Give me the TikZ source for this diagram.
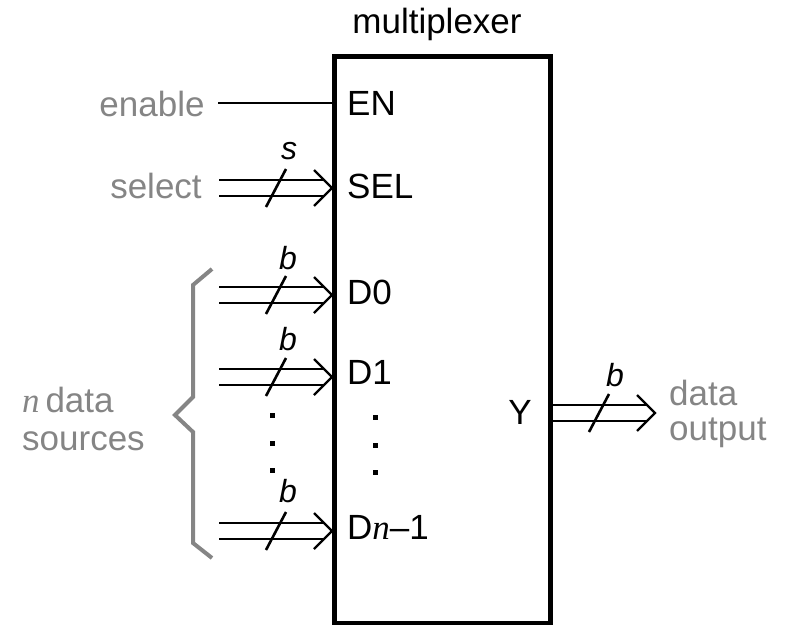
\documentclass[tikz,border=0pt]{standalone}
\usepackage{fontspec}
\setmainfont{Liberation Sans}
\newfontfamily\serifit{Liberation Serif}
\usetikzlibrary{calc}
\definecolor{lblgray}{HTML}{858585}
\newcommand\busarrow[2]{%
  \draw[busline] ($(#1)+(0,-8)$) -- ($(#2)+(-8,-8)$) ($(#1)+(0,8)$) -- ($(#2)+(-8,8)$);
  \draw[busline] ($(#2)+(-18,-18)$) -- (#2) -- ($(#2)+(-18,18)$);
  \draw[busline, line width=2.6pt] ($(#2)+(-66,19)$) -- ($(#2)+(-46,-19)$);
}
\begin{document}
\begin{tikzpicture}[x=1pt,y=-1pt,
  busline/.style={line width=2.2pt, line join=miter},
  lbl/.style={font=\fontsize{35}{40}\selectfont, inner sep=0pt},
  glbl/.style={lbl, text=lblgray},
  pin/.style={lbl, anchor=west},
  widthlbl/.style={font=\fontsize{32}{36}\selectfont\itshape, inner sep=0pt}]
\useasboundingbox (0,0) rectangle (787,624);
% box
\node[draw, line width=5pt, minimum width=216pt, minimum height=567pt, anchor=north west, inner sep=0pt] (mux) at (332,54) {};
\node[lbl] (title) at (437,24) {multiplexer};
% pins
\node[pin] (en) at (347,103) {EN};
\node[pin] (sel) at (347,186) {SEL};
\node[pin] (d0) at (347,292) {D0};
\node[pin] (d1) at (347,372) {D1};
\node[pin] (dn) at (347,527) {D{\serifit\itshape n}--1};
\node[lbl, anchor=east] (y) at (532,412) {Y};
% enable
\node[glbl] (enable) at (152,104) {enable};
\coordinate (ens) at (218,103);
\draw[line width=2pt] (ens) -- (mux.west |- ens);
% select
\node[glbl] (select) at (156,186) {select};
\coordinate (sels) at (219,188);
\coordinate (selt) at (mux.west |- sels);
\busarrow{sels}{selt}
\node[widthlbl] (sw) at (289,151) {s};
% data inputs
\coordinate (d0s) at (219,295);
\coordinate (d0t) at (mux.west |- d0s);
\busarrow{d0s}{d0t}
\node[widthlbl] (b0) at (288,258) {b};
\coordinate (d1s) at (219,377);
\coordinate (d1t) at (mux.west |- d1s);
\busarrow{d1s}{d1t}
\node[widthlbl] (b1) at (288,339) {b};
\coordinate (dns) at (219,531);
\coordinate (dnt) at (mux.west |- dns);
\busarrow{dns}{dnt}
\node[widthlbl] (bn) at (288,491) {b};
% dots
\foreach \yy in {415,443,470} {
  \fill (269.5,\yy-2.5) rectangle ++(5,5);
  \fill (372.5,\yy-0.5) rectangle ++(5,5);
}
% brace
\draw[lblgray, line width=4pt, line join=miter] (212,269) -- (193,285) -- (193,397) -- (175,415) -- (193,432) -- (193,543) -- (212,558);
\node[glbl, anchor=west] (ndata) at (22,400) {{\serifit\itshape n}\,data};
\node[glbl, anchor=west] (sources) at (22,441) {sources};
% output
\coordinate (ys) at (mux.east |- 0,413);
\coordinate (yt) at (655,413);
\busarrow{ys}{yt}
\node[widthlbl] (bo) at (615,375) {b};
\node[glbl, anchor=west] (dout1) at (669,393) {data};
\node[glbl, anchor=west] (dout2) at (669,433) {output};
\end{tikzpicture}
\end{document}
